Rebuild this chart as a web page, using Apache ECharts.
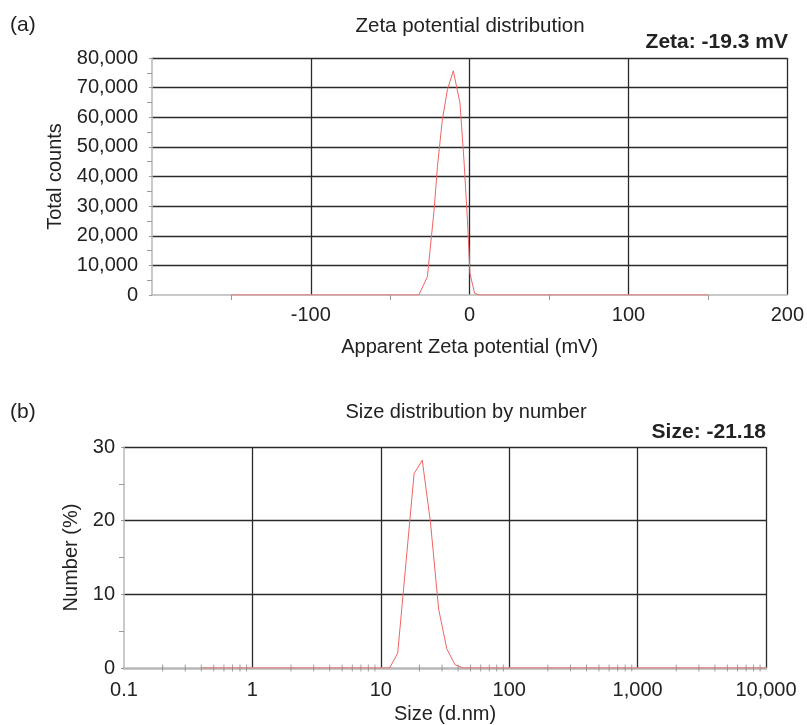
<!DOCTYPE html>
<html>
<head>
<meta charset="utf-8">
<script src="https://cdn.jsdelivr.net/npm/echarts@6/dist/echarts.min.js"></script>
<style>html,body{margin:0;padding:0;background:#fff}#c{width:807px;height:725px}</style>
</head>
<body>
<div id="c"></div>
<script>
// ---- Panel (a): zeta potential distribution ----
var zetaX = [-150, -32, -30.8, -26.6, -22.4, -20.3, -17.2, -14.0, -10.3, -6.1, -3.6, -1.4, 0.2, 3.1, 5.9, 150];
var zetaCounts = [0, 0, 570, 6200, 28700, 43300, 59100, 69300, 75700, 64800, 45600, 25300, 7300, 570, 0, 0];
var zetaYTicks = [0, 10000, 20000, 30000, 40000, 50000, 60000, 70000, 80000];
var zetaXTicks = [-100, 0, 100, 200];

// ---- Panel (b): size distribution by number ----
var sizeBins = [0.4, 1, 10.10, 11.70, 13.54, 15.69, 18.17, 21.04, 24.36, 28.21, 32.67, 37.84, 43.82, 100, 1000, 10000];
var sizeNumber = [0, 0, 0, 0, 2.0, 14.2, 26.4, 28.2, 19.8, 8.0, 2.6, 0.45, 0, 0, 0, 0];
var sizeXTicks = [0.1, 1, 10, 100, 1000, 10000];
var sizeYTicks = [0, 10, 20, 30];
var sizeMinorTicks = [0.2,0.3,0.4,0.5,0.6,0.7,0.8,0.9, 2,3,4,5,6,7,8,9, 20,30,40,50,60,70,80,90, 200,300,400,500,600,700,800,900, 2000,3000,4000,5000,6000,7000,8000,9000];

var FONT = '"Liberation Sans", Arial, sans-serif';
var GRID_COLOR = '#2a2a2a';
var AXIS_GRAY = '#b8b8b8';
var RED = '#f06464';

function fmt(v) { return Number(v).toLocaleString('en-US'); }

var chart = echarts.init(document.getElementById('c'), null, {renderer: 'canvas'});
chart.setOption({
  animation: false,
  backgroundColor: '#fff',
  textStyle: {fontFamily: FONT},
  graphic: [
    {type: 'text', x: 10, y: 25, style: {text: '(a)', font: '21px ' + FONT, fill: '#222', verticalAlign: 'middle'}},
    {type: 'text', x: 470, y: 26, style: {text: 'Zeta potential distribution', font: '20.5px ' + FONT, fill: '#222', align: 'center', verticalAlign: 'middle'}},
    {type: 'text', x: 788, y: 42, style: {text: 'Zeta: -19.3 mV', font: 'bold 21px ' + FONT, fill: '#222', align: 'right', verticalAlign: 'middle'}},
    {type: 'text', x: 10, y: 412, style: {text: '(b)', font: '21px ' + FONT, fill: '#222', verticalAlign: 'middle'}},
    {type: 'text', x: 466, y: 412, style: {text: 'Size distribution by number', font: '20px ' + FONT, fill: '#222', align: 'center', verticalAlign: 'middle'}},
    {type: 'text', x: 766, y: 432, style: {text: 'Size: -21.18', font: 'bold 21px ' + FONT, fill: '#222', align: 'right', verticalAlign: 'middle'}}
  ],
  grid: [
    {left: 152, top: 58, width: 636, height: 237},
    {left: 124, top: 447, width: 642, height: 221}
  ],
  xAxis: [
    {
      gridIndex: 0, type: 'value', min: -200, max: 200, interval: 100,
      name: 'Apparent Zeta potential (mV)', nameLocation: 'middle', nameGap: 42,
      nameTextStyle: {fontSize: 20, color: '#222', fontFamily: FONT},
      axisLine: {show: true, onZero: false, lineStyle: {color: AXIS_GRAY, width: 1.5}},
      axisTick: {show: false},
      minorTick: {show: true, splitNumber: 2, length: 5, lineStyle: {color: '#999', width: 1}},
      axisLabel: {showMinLabel: false, fontSize: 20, color: '#222', margin: 10, fontFamily: FONT,
        formatter: function (v) { return zetaXTicks.indexOf(v) >= 0 ? String(v) : ''; }},
      splitLine: {show: true, showMinLine: false, lineStyle: {color: GRID_COLOR, width: 1.3}}
    },
    {
      gridIndex: 1, type: 'log', logBase: 10, min: 0.1, max: 10000,
      name: 'Size (d.nm)', nameLocation: 'middle', nameGap: 36,
      nameTextStyle: {fontSize: 20, color: '#222', fontFamily: FONT},
      axisLine: {show: true, onZero: false, lineStyle: {color: AXIS_GRAY, width: 2.5}},
      axisTick: {show: false},
      axisLabel: {fontSize: 20, color: '#222', margin: 12, fontFamily: FONT,
        formatter: function (v) { return fmt(v); }},
      splitLine: {show: true, showMinLine: false, lineStyle: {color: GRID_COLOR, width: 1.3}}
    }
  ],
  yAxis: [
    {
      gridIndex: 0, type: 'value', min: 0, max: 80000, interval: 10000,
      name: 'Total counts', nameLocation: 'middle', nameGap: 84,
      nameTextStyle: {fontSize: 20, color: '#222', fontFamily: FONT},
      axisLine: {show: true, onZero: false, lineStyle: {color: AXIS_GRAY, width: 1.5}},
      axisTick: {show: true, length: 3, lineStyle: {color: '#999'}},
      minorTick: {show: true, splitNumber: 2, length: 5, lineStyle: {color: '#999', width: 1}},
      axisLabel: {fontSize: 20, color: '#222', margin: 14, fontFamily: FONT,
        formatter: function (v) { return fmt(v); }},
      splitLine: {show: true, showMinLine: false, lineStyle: {color: GRID_COLOR, width: 1.3}}
    },
    {
      gridIndex: 1, type: 'value', min: 0, max: 30, interval: 10,
      name: 'Number (%)', nameLocation: 'middle', nameGap: 42,
      nameTextStyle: {fontSize: 20, color: '#222', fontFamily: FONT},
      axisLine: {show: true, onZero: false, lineStyle: {color: AXIS_GRAY, width: 1.5}},
      axisTick: {show: true, length: 3, lineStyle: {color: '#999'}},
      minorTick: {show: true, splitNumber: 2, length: 5, lineStyle: {color: '#999', width: 1}},
      axisLabel: {fontSize: 20, color: '#222', margin: 9, fontFamily: FONT},
      splitLine: {show: true, showMinLine: false, lineStyle: {color: GRID_COLOR, width: 1.3}}
    }
  ],
  series: [
    {
      type: 'line', xAxisIndex: 0, yAxisIndex: 0, showSymbol: false, symbol: 'none',
      lineStyle: {color: RED, width: 1}, z: 5,
      data: zetaX.map(function (x, i) { return [x, zetaCounts[i]]; })
    },
    {
      type: 'scatter', xAxisIndex: 1, yAxisIndex: 1, symbol: 'rect', symbolSize: [1, 7],
      itemStyle: {color: '#888'}, silent: true, z: 3,
      data: sizeMinorTicks.map(function (x) { return [x, 0]; })
    },
    {
      type: 'line', xAxisIndex: 1, yAxisIndex: 1, showSymbol: false, symbol: 'none',
      lineStyle: {color: RED, width: 1}, z: 5,
      data: sizeBins.map(function (x, i) { return [x, sizeNumber[i]]; })
    }
  ]
});
</script>
</body>
</html>
